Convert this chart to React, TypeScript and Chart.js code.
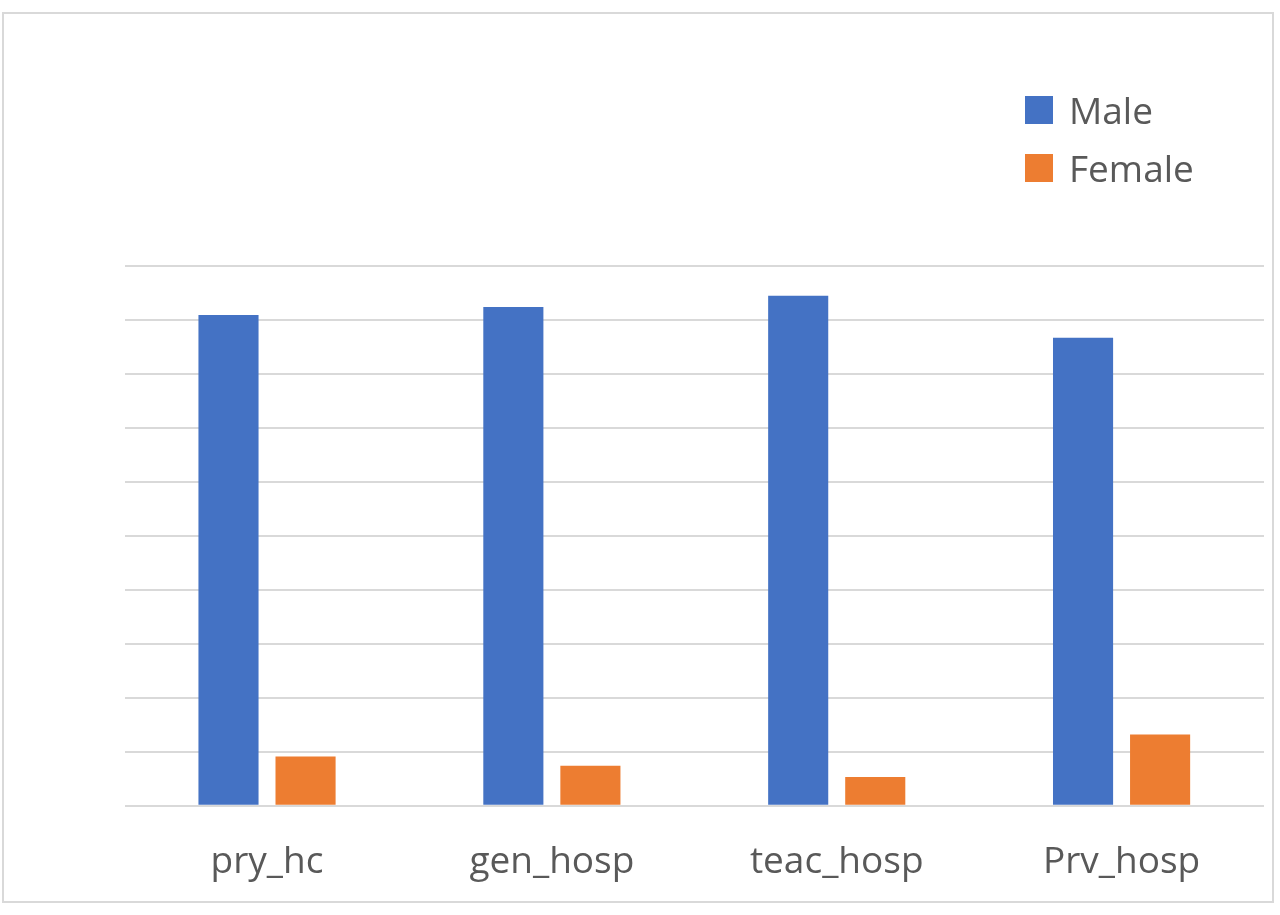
import React, { useEffect, useRef } from "react";
import { Chart, registerables } from "chart.js";

Chart.register(...registerables);

const categories = ["pry_hc", "gen_hosp", "teac_hosp", "Prv_hosp"];
const maleValues = [90.9, 92.4, 94.5, 86.7];
const femaleValues = [9.1, 7.4, 5.3, 13.2];
const seriesNames = ["Male", "Female"];
const seriesColors = ["#4472C4", "#ED7D31"];

const FONT = '"Open Sans", "Noto Sans", sans-serif';

const sideLegend = {
  id: "sideLegend",
  afterDraw(chart: any) {
    const ctx = chart.ctx;
    ctx.save();
    ctx.font = `37px ${FONT}`;
    ctx.textBaseline = "alphabetic";
    ctx.textAlign = "left";
    chart.data.datasets.forEach((ds: any, i: number) => {
      const baseline = 123.5 + i * 58;
      ctx.fillStyle = ds.backgroundColor;
      ctx.fillRect(1025, baseline - 27.5, 28, 28);
      ctx.fillStyle = "#595959";
      ctx.fillText(ds.label, 1069, baseline);
    });
    ctx.restore();
  },
};

export default function App() {
  const ref = useRef<HTMLCanvasElement | null>(null);

  useEffect(() => {
    if (!ref.current) return;
    const chart = new Chart(ref.current, {
      type: "bar",
      data: {
        labels: categories,
        datasets: [
          {
            label: seriesNames[0],
            data: maleValues,
            backgroundColor: seriesColors[0],
            barPercentage: 0.78,
            categoryPercentage: 0.541,
          },
          {
            label: seriesNames[1],
            data: femaleValues,
            backgroundColor: seriesColors[1],
            barPercentage: 0.78,
            categoryPercentage: 0.541,
          },
        ],
      },
      options: {
        responsive: false,
        animation: false,
        maintainAspectRatio: false,
        layout: { padding: { left: 0, right: 16, top: 266, bottom: 0 } },
        plugins: {
          legend: { display: false },
          tooltip: { enabled: false },
          title: { display: false },
        },
        scales: {
          x: {
            grid: { display: false, drawTicks: false },
            border: { display: false },
            ticks: {
              color: "#595959",
              font: { family: FONT, size: 37 },
              padding: 35,
            },
            afterFit: (axis: any) => {
              axis.height = 109.3;
            },
          },
          y: {
            min: 0,
            max: 100,
            ticks: { display: false, stepSize: 10 },
            grid: { color: "#d9d9d9", lineWidth: 2, drawTicks: false },
            border: { display: false },
            afterFit: (axis: any) => {
              axis.width = 124.6;
            },
          },
        },
      },
      plugins: [sideLegend],
    });
    return () => chart.destroy();
  }, []);

  return (
    <div
      style={{
        position: "absolute",
        left: 0,
        top: 0,
        width: 1280,
        height: 915,
        background: "#ffffff",
      }}
    >
      <div
        style={{
          position: "absolute",
          left: 2,
          top: 12,
          width: 1272,
          height: 891,
          border: "2px solid #d9d9d9",
          boxSizing: "border-box",
          pointerEvents: "none",
        }}
      />
      <canvas
        ref={ref}
        width={1280}
        height={915}
        style={{ position: "absolute", left: 0, top: 0, width: 1280, height: 915 }}
      />
    </div>
  );
}
